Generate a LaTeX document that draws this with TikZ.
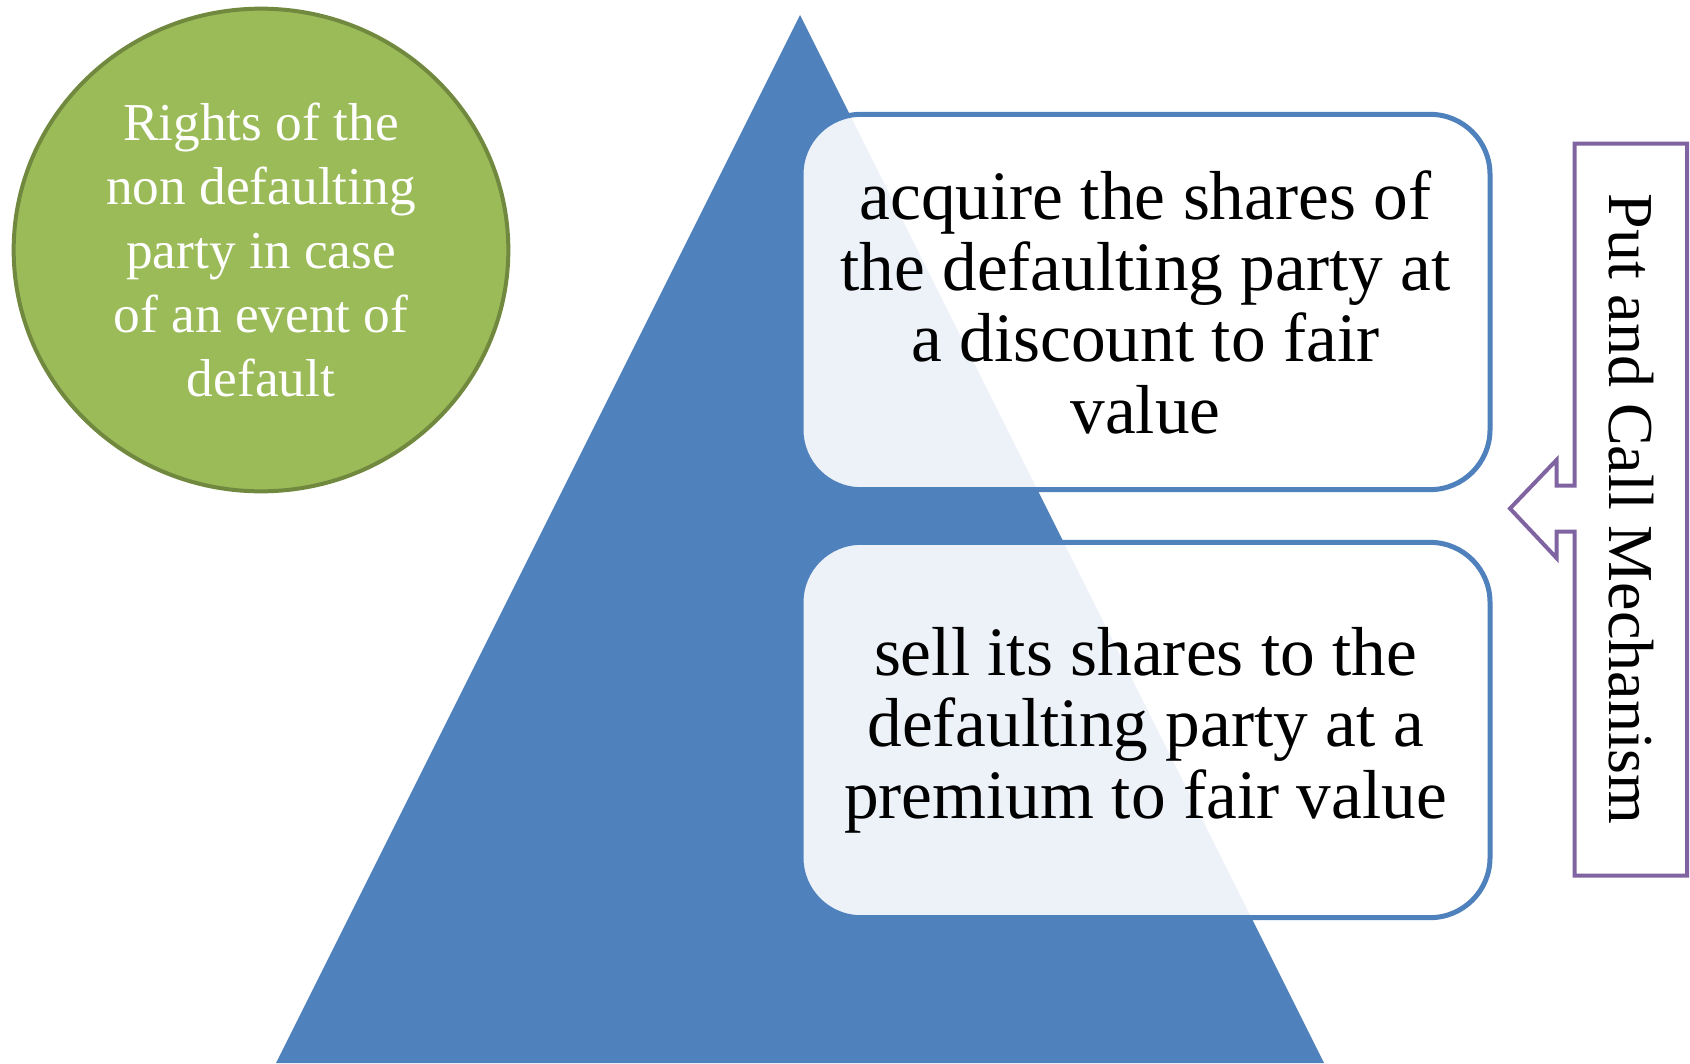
\documentclass[tikz,border=0pt]{standalone}
\usepackage{fontspec}
\setmainfont{Liberation Serif}
\usetikzlibrary{shapes.geometric}
\definecolor{triblue}{HTML}{4F81BD}
\definecolor{leafgreen}{HTML}{9BBB59}
\definecolor{leafdark}{HTML}{71893F}
\definecolor{callpurple}{HTML}{8064A2}
\begin{document}
\begin{tikzpicture}[x=0.75pt,y=-0.75pt,
  rightbox/.style={draw=triblue, line width=3.75pt, fill=white, fill opacity=0.9, text opacity=1,
    rounded corners=45pt, minimum width=516.75pt, minimum height=281.5pt, align=center,
    inner sep=0pt, font=\fontsize{52}{53.5}\selectfont},
  leaf/.style={ellipse, draw=leafdark, line width=3pt, fill=leafgreen, text=white,
    minimum width=371pt, minimum height=362pt, inner sep=0pt, align=center,
    font=\fontsize{40}{48}\selectfont},
  callout/.style={draw=callpurple, line width=3pt, fill=white},
  calltext/.style={rotate=-90, font=\fontsize{48}{50}\selectfont, inner sep=0pt}
]
\useasboundingbox[fill=white] (0,0) rectangle (1690,1063);
% pyramid
\fill[triblue] (800,15) -- (276,1063) -- (1324,1063) -- cycle;
% circle
\node[leaf] (rights) at (261,250) {Rights of the\\non defaulting\\party in case\\of an event of\\default};
% boxes
\node[rightbox] (acquire) at (1145.5,302) {acquire the shares of\\the defaulting party at\\a discount to fair\\value};
\node[rightbox] (sell) at (1145.5,730) {sell its shares to the\\defaulting party at a\\premium to fair value};
% callout arrow
\draw[callout] (1574.5,143.5) -- (1687,143.5) -- (1687,875.5) -- (1574.5,875.5)
  -- (1574.5,531.5) -- (1556.5,531.5) -- (1556.5,558) -- (1510,508.5)
  -- (1556.5,460) -- (1556.5,485.5) -- (1574.5,485.5) -- cycle;
\node[calltext] (pcm) at (1631,509) {Put and Call Mechanism};
\end{tikzpicture}
\end{document}
